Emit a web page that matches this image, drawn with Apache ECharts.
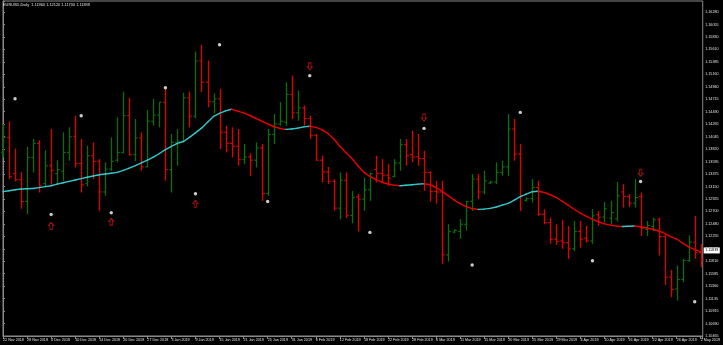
<!DOCTYPE html>
<html><head><meta charset="utf-8">
<script src="https://cdn.jsdelivr.net/npm/echarts@6/dist/echarts.min.js"></script>
<style>html,body{margin:0;padding:0;background:#000;}#c{width:723px;height:345px;}</style>
</head><body><div id="c"></div>
<script>
const DATES = ['22 Nov 2018','23 Nov 2018','26 Nov 2018','27 Nov 2018','28 Nov 2018','29 Nov 2018','30 Nov 2018',
'3 Dec 2018','4 Dec 2018','5 Dec 2018','6 Dec 2018','7 Dec 2018','10 Dec 2018','11 Dec 2018','12 Dec 2018','13 Dec 2018','14 Dec 2018','17 Dec 2018','18 Dec 2018','19 Dec 2018','20 Dec 2018','21 Dec 2018','24 Dec 2018','26 Dec 2018','27 Dec 2018','28 Dec 2018','31 Dec 2018',
'2 Jan 2019','3 Jan 2019','4 Jan 2019','7 Jan 2019','8 Jan 2019','9 Jan 2019','10 Jan 2019','11 Jan 2019','14 Jan 2019','15 Jan 2019','16 Jan 2019','17 Jan 2019','18 Jan 2019','21 Jan 2019','22 Jan 2019','23 Jan 2019','24 Jan 2019','25 Jan 2019','28 Jan 2019','29 Jan 2019','30 Jan 2019','31 Jan 2019',
'1 Feb 2019','4 Feb 2019','5 Feb 2019','6 Feb 2019','7 Feb 2019','8 Feb 2019','11 Feb 2019','12 Feb 2019','13 Feb 2019','14 Feb 2019','15 Feb 2019','18 Feb 2019','19 Feb 2019','20 Feb 2019','21 Feb 2019','22 Feb 2019','25 Feb 2019','26 Feb 2019','27 Feb 2019','28 Feb 2019',
'1 Mar 2019','4 Mar 2019','5 Mar 2019','6 Mar 2019','7 Mar 2019','8 Mar 2019','10 Mar 2019','11 Mar 2019','12 Mar 2019','13 Mar 2019','14 Mar 2019','15 Mar 2019','17 Mar 2019','18 Mar 2019','19 Mar 2019','20 Mar 2019','21 Mar 2019','22 Mar 2019','24 Mar 2019','25 Mar 2019','26 Mar 2019','27 Mar 2019','28 Mar 2019','29 Mar 2019',
'1 Apr 2019','2 Apr 2019','3 Apr 2019','4 Apr 2019','5 Apr 2019','8 Apr 2019','9 Apr 2019','10 Apr 2019','11 Apr 2019','12 Apr 2019','15 Apr 2019','16 Apr 2019','17 Apr 2019','18 Apr 2019','19 Apr 2019','22 Apr 2019','23 Apr 2019','24 Apr 2019','25 Apr 2019','26 Apr 2019','29 Apr 2019','30 Apr 2019','1 May 2019','2 May 2019'];

const OPEN = [1.1376,1.1403,1.1338,1.1327,1.1288,1.1367,1.1392,1.1320,1.1352,1.1338,1.1342,1.1376,1.1405,1.1356,1.1320,1.1370,1.1360,1.1305,1.1346,1.1362,1.1376,1.1442,1.1372,1.1402,1.1350,1.1432,1.1443,
1.1466,1.1345,1.1394,1.1396,1.1474,1.1441,1.1540,1.1502,1.1467,1.1472,1.1412,1.1392,1.1387,1.1363,1.1368,1.1362,1.1384,1.1302,1.1408,1.1427,1.1430,1.1480,
1.1447,1.1456,1.1437,1.1407,1.1362,1.1341,1.1324,1.1276,1.1326,1.1263,1.1296,1.1292,1.1309,1.1345,1.1338,1.1335,1.1333,1.1357,1.1390,1.1372,
1.1368,1.1365,1.1340,1.1306,1.1305,1.1192,1.1233,1.1234,1.1247,1.1288,1.1328,1.1305,1.1321,1.1323,1.1340,1.1350,1.1418,1.1373,1.1290,1.1293,1.1313,1.1265,1.1250,1.1220,
1.1217,1.1214,1.1203,1.1234,1.1222,1.1217,1.1264,1.1260,1.1258,1.1257,1.1305,1.1297,1.1285,1.1297,1.1238,1.1243,1.1255,1.1225,1.1152,1.1131,1.1148,1.1182,1.1215,1.1196];
const HIGH = [1.1427,1.1432,1.1383,1.1341,1.1386,1.1400,1.1398,1.1380,1.1418,1.1362,1.1412,1.1421,1.1442,1.1400,1.1388,1.1394,1.1364,1.1358,1.1403,1.1439,1.1485,1.1474,1.1436,1.1412,1.1452,1.1472,1.1466,
1.1490,1.1409,1.1418,1.1483,1.1485,1.1557,1.1569,1.1541,1.1482,1.1490,1.1424,1.1421,1.1418,1.1391,1.1374,1.1394,1.1391,1.1418,1.1445,1.1466,1.1502,1.1514,
1.1487,1.1460,1.1442,1.1409,1.1370,1.1350,1.1328,1.1340,1.1340,1.1307,1.1301,1.1331,1.1340,1.1370,1.1364,1.1355,1.1364,1.1400,1.1400,1.1415,
1.1409,1.1379,1.1342,1.1325,1.1325,1.1247,1.1238,1.1256,1.1289,1.1337,1.1337,1.1343,1.1325,1.1358,1.1361,1.1445,1.1436,1.1391,1.1295,1.1328,1.1325,1.1274,1.1259,1.1247,
1.1255,1.1244,1.1253,1.1253,1.1244,1.1274,1.1271,1.1287,1.1289,1.1323,1.1319,1.1301,1.1328,1.1304,1.1253,1.1259,1.1259,1.1230,1.1165,1.1173,1.1185,1.1227,1.1262,1.1212];
const LOW = [1.1367,1.1328,1.1324,1.1275,1.1265,1.1340,1.1304,1.1315,1.1318,1.1318,1.1325,1.1361,1.1349,1.1304,1.1315,1.1328,1.1271,1.1298,1.1343,1.1358,1.1374,1.1370,1.1360,1.1343,1.1349,1.1424,1.1421,
1.1325,1.1304,1.1352,1.1394,1.1421,1.1437,1.1484,1.1457,1.1446,1.1382,1.1376,1.1367,1.1352,1.1355,1.1334,1.1349,1.1289,1.1298,1.1391,1.1424,1.1424,1.1436,
1.1433,1.1424,1.1400,1.1361,1.1322,1.1319,1.1271,1.1256,1.1258,1.1249,1.1234,1.1271,1.1289,1.1322,1.1322,1.1316,1.1331,1.1343,1.1352,1.1358,
1.1352,1.1307,1.1288,1.1284,1.1176,1.1180,1.1231,1.1221,1.1236,1.1271,1.1292,1.1301,1.1319,1.1319,1.1334,1.1334,1.1361,1.1271,1.1288,1.1286,1.1262,1.1247,1.1212,1.1210,
1.1203,1.1185,1.1199,1.1205,1.1214,1.1212,1.1244,1.1250,1.1247,1.1252,1.1277,1.1278,1.1277,1.1226,1.1226,1.1235,1.1191,1.1138,1.1116,1.1110,1.1143,1.1179,1.1185,1.1170];
const CLOSE = [1.1403,1.1333,1.1327,1.1288,1.1367,1.1392,1.1316,1.1352,1.1344,1.1345,1.1376,1.1404,1.1356,1.1318,1.1370,1.1360,1.1305,1.1346,1.1360,1.1376,1.1442,1.1372,1.1402,1.1350,1.1432,1.1443,1.1466,
1.1345,1.1394,1.1396,1.1474,1.1441,1.1540,1.1502,1.1467,1.1472,1.1412,1.1392,1.1387,1.1363,1.1368,1.1362,1.1384,1.1302,1.1408,1.1427,1.1432,1.1480,1.1447,
1.1456,1.1437,1.1407,1.1362,1.1341,1.1324,1.1276,1.1326,1.1263,1.1295,1.1292,1.1309,1.1338,1.1338,1.1335,1.1330,1.1357,1.1390,1.1370,1.1368,
1.1365,1.1340,1.1306,1.1305,1.1192,1.1234,1.1236,1.1247,1.1288,1.1328,1.1305,1.1325,1.1323,1.1340,1.1350,1.1418,1.1373,1.1298,1.1293,1.1313,1.1265,1.1250,1.1220,1.1216,
1.1214,1.1203,1.1234,1.1220,1.1217,1.1262,1.1260,1.1275,1.1268,1.1298,1.1297,1.1285,1.1295,1.1240,1.1245,1.1255,1.1225,1.1152,1.1130,1.1148,1.1182,1.1215,1.1196,1.11839];

const MA = [1.13055,1.13072,1.13089,1.13103,1.13108,1.13113,1.13128,1.13145,1.13162,1.13190,1.13215,1.13240,1.13265,1.13290,1.13313,1.13336,1.13358,1.13372,1.13386,1.13401,
1.13438,1.13478,1.13523,1.13572,1.13620,1.13675,1.13740,1.13810,1.13870,1.13922,1.13955,1.14030,1.14110,1.14195,1.14300,1.14405,1.14460,1.14505,1.14535,1.14500,
1.14468,1.14422,1.14373,1.14323,1.14270,1.14225,1.14190,1.14173,1.14180,1.14196,1.14218,1.14230,1.14210,1.14170,1.14100,1.14000,1.13870,1.13760,1.13650,1.13520,
1.13400,1.13330,1.13270,1.13225,1.13193,1.13172,1.13162,1.13170,1.13180,1.13190,1.13198,1.13180,1.13130,1.13060,1.12985,1.12905,1.12840,1.12785,1.12752,1.12737,
1.12742,1.12755,1.12780,1.12815,1.12845,1.12905,1.12965,1.13010,1.13055,1.13062,1.13040,1.13000,1.12950,1.12880,1.12810,1.12735,1.12670,1.12612,1.12560,1.12515,
1.12478,1.12455,1.12437,1.12430,1.12434,1.12438,1.12425,1.12403,1.12380,1.12350,1.12305,1.12250,1.12205,1.12130,1.12065,1.12015,1.11975];

const PRICE_LABELS = ['1.10465','1.10690','1.10915','1.11135','1.11360','1.11585','1.11810','1.12030','1.12255','1.12480','1.12700','1.12925','1.13150','1.13375','1.13595','1.13820','1.14045','1.14265','1.14490','1.14715','1.14940','1.15160','1.15385','1.15610','1.15830','1.16055','1.16280'];

const DOT_IDX   = [2,8,13,18,27,32,36,44,51,61,70,78,86,98,106,115];
const DOT_PRICE = [1.14724,1.12647,1.14419,1.12677,1.14921,1.13019,1.15693,1.12880,1.15137,1.12324,1.14191,1.11739,1.14478,1.11816,1.13239,1.11080];
const UP_IDX    = [8,18,32];
const UP_PRICE  = [1.12444,1.12516,1.12839];
const DN_IDX    = [51,70,106];
const DN_PRICE  = [1.15304,1.14383,1.13395];

const LAST_PRICE = 1.11839;
const TITLE = 'EURUSD,Daily  1.11960 1.12120 1.11700 1.11839';

const Y_MIN = 1.10465;
const Y_STEP = Y_MIN / 494;
const PX = Y_STEP / 12.46;
const Y_MAX = Y_MIN + 335 * PX;
const X_MAX = 116.33;

const GREEN = '#0e6e0e', RED = '#e00000', CYAN = '#33c9cc', MARED = '#e80000';
const FONT = 'Liberation Sans';

const bars = DATES.map((d, i) => [i, OPEN[i], HIGH[i], LOW[i], CLOSE[i]]);
const maSeg = [];
for (let i = 0; i < MA.length - 1; i++) maSeg.push([i, MA[i], i + 1, MA[i + 1]]);

function renderBar(params, api) {
  const i = api.value(0), o = api.value(1), h = api.value(2), l = api.value(3), c = api.value(4);
  const pH = api.coord([i, h]), pL = api.coord([i, l]), pO = api.coord([i, o]), pC = api.coord([i, c]);
  const col = c >= o ? GREEN : RED;
  const x = Math.round(pH[0]) + 0.5;
  return { type: 'group', children: [
    { type: 'line', shape: { x1: x, y1: pH[1], x2: x, y2: pL[1] }, style: { stroke: col, lineWidth: 1.3 } },
    { type: 'line', shape: { x1: x - 2.3, y1: pO[1], x2: x, y2: pO[1] }, style: { stroke: col, lineWidth: 1.1 } },
    { type: 'line', shape: { x1: x, y1: pC[1], x2: x + 2.3, y2: pC[1] }, style: { stroke: col, lineWidth: 1.1 } }
  ]};
}
function renderMA(params, api) {
  const a = api.coord([api.value(0), api.value(1)]);
  const b = api.coord([api.value(2), api.value(3)]);
  const col = api.value(3) > api.value(1) ? CYAN : MARED;
  return { type: 'line', shape: { x1: a[0], y1: a[1], x2: b[0], y2: b[1] }, style: { stroke: col, lineWidth: 1.4, lineCap: 'round' } };
}

const UP_ARROW = 'path://M3,0 L6,3 L4.5,3 L4.5,7 L1.5,7 L1.5,3 L0,3 Z';

const chart = echarts.init(document.getElementById('c'), null, { renderer: 'canvas' });
chart.setOption({
  backgroundColor: '#000',
  animation: false,
  title: { text: TITLE, left: 3, top: 3, padding: 0, textStyle: { color: '#e0e0e0', fontSize: 3.9, fontWeight: 'normal', fontFamily: FONT } },
  grid: { left: 1, right: 17, top: 1, bottom: 9, show: true, borderColor: '#8a8a8a', borderWidth: 1, backgroundColor: '#000' },
  xAxis: {
    type: 'value', min: 0, max: X_MAX, interval: 4,
    axisLine: { show: true, lineStyle: { color: '#8a8a8a', width: 1 } },
    axisTick: { show: true, length: 3, lineStyle: { color: '#8a8a8a' } },
    splitLine: { show: false },
    axisLabel: {
      color: '#e0e0e0', fontSize: 3.7, fontFamily: FONT, align: 'left', margin: 2, showMaxLabel: true, showMinLabel: true,
      formatter: v => { const k = Math.round(v); return (Math.abs(v - k) < 1e-6 && k % 4 === 0 && DATES[k]) ? DATES[k] : ''; }
    }
  },
  yAxis: {
    type: 'value', position: 'right', min: Y_MIN, max: Y_MAX, interval: Y_STEP, scale: true,
    axisLine: { show: true, lineStyle: { color: '#8a8a8a', width: 1 } },
    axisTick: { show: true, length: 2, lineStyle: { color: '#8a8a8a' } },
    splitLine: { show: false },
    axisLabel: {
      color: '#e0e0e0', fontSize: 3.7, fontFamily: FONT, margin: 2.5, showMaxLabel: true, showMinLabel: true,
      formatter: v => { const t = (v - Y_MIN) / Y_STEP; const k = Math.round(t); return (Math.abs(t - k) < 0.02 && PRICE_LABELS[k]) ? PRICE_LABELS[k] : ''; }
    }
  },
  series: [
    { type: 'custom', name: 'bars', renderItem: renderBar, data: bars, encode: { x: 0, y: [1, 2, 3, 4] }, z: 3 },
    { type: 'custom', name: 'ma', renderItem: renderMA, data: maSeg, encode: { x: [0, 2], y: [1, 3] }, z: 4 },
    { type: 'scatter', name: 'signal', data: DOT_IDX.map((x, k) => [x, DOT_PRICE[k]]), symbol: 'circle', symbolSize: 3.4, itemStyle: { color: '#ffffff' }, z: 5 },
    { type: 'scatter', name: 'up', data: UP_IDX.map((x, k) => [x, UP_PRICE[k]]), symbol: UP_ARROW, symbolSize: [5, 7], symbolKeepAspect: false,
      itemStyle: { color: 'rgba(0,0,0,0)', borderColor: '#c81414', borderWidth: 1 }, z: 5 },
    { type: 'scatter', name: 'down', data: DN_IDX.map((x, k) => [x, DN_PRICE[k]]), symbol: UP_ARROW, symbolRotate: 180, symbolSize: [5, 7],
      itemStyle: { color: 'rgba(0,0,0,0)', borderColor: '#c81414', borderWidth: 1 }, z: 5 },
    { type: 'line', name: 'last', data: [[0, LAST_PRICE], [X_MAX, LAST_PRICE]], symbol: 'none', clip: false,
      lineStyle: { color: 'rgba(0,0,0,0)', width: 1 }, z: 10,
      markLine: { silent: true, symbol: ['none', 'none'], lineStyle: { color: 'rgba(0,0,0,0)', width: 1, type: 'solid' },
        label: { show: true, position: 'end', distance: 1, formatter: LAST_PRICE.toFixed(5), backgroundColor: '#ffffff', color: '#000000', fontSize: 3.7, fontFamily: FONT, padding: [1, 1.5] },
        data: [{ yAxis: LAST_PRICE }] } }
  ]
});
</script>
</body></html>
